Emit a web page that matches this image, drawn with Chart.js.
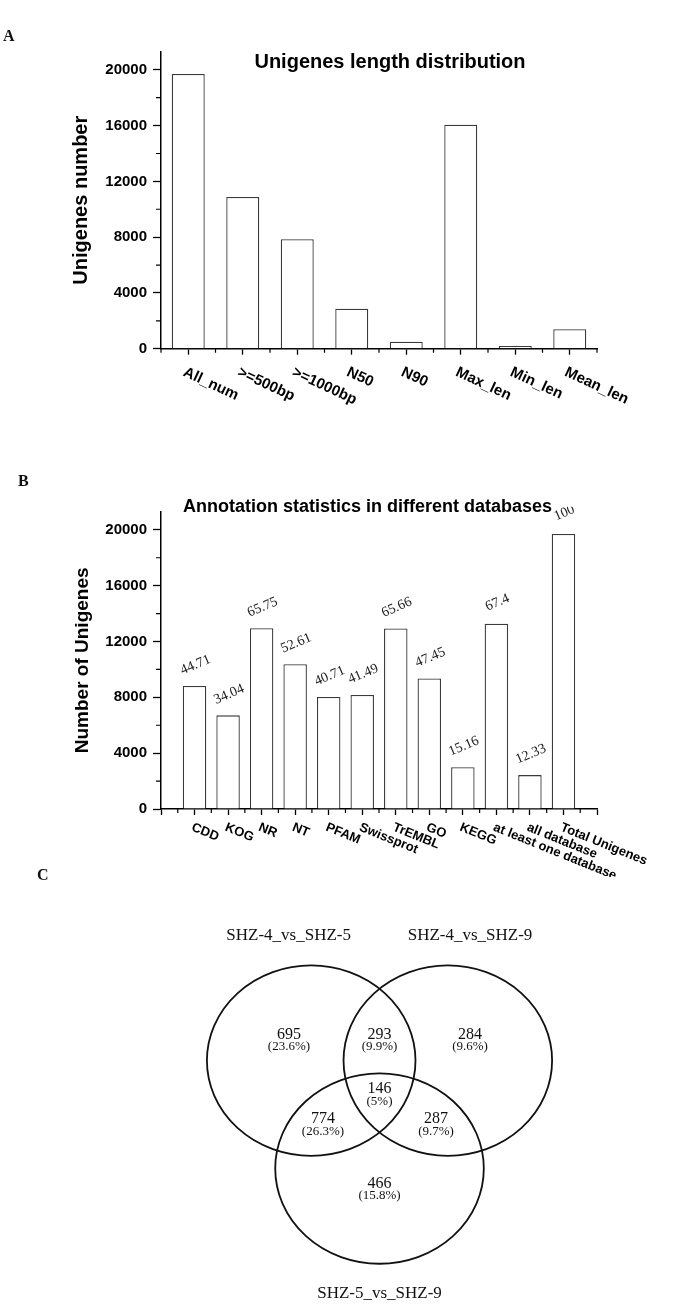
<!DOCTYPE html>
<html><head><meta charset="utf-8">
<script src="https://cdn.jsdelivr.net/npm/chart.js@4.4.1/dist/chart.umd.min.js"></script>
<style>
html,body{margin:0;padding:0;background:#fff;}
body{width:688px;height:1306px;position:relative;overflow:hidden;}
canvas{position:absolute;left:0;}
.plabel{position:absolute;font:bold 16px "Liberation Serif","Times New Roman",serif;line-height:16px;color:#111;z-index:2;}
</style></head><body>
<canvas id="chartA" width="688" height="420" style="top:0;width:688px;height:420px"></canvas>
<canvas id="chartB" width="688" height="437" style="top:440px;width:688px;height:437px"></canvas>
<canvas id="chartC" width="688" height="429" style="top:877px;width:688px;height:429px"></canvas>
<div class="plabel" style="left:3px;top:28px">A</div>
<div class="plabel" style="left:18px;top:473px">B</div>
<div class="plabel" style="left:37px;top:867px">C</div>
<script>
// ---------- data ----------
const lengthCategories = ['All_num', '>=500bp', '>=1000bp', 'N50', 'N90', 'Max_len', 'Min_len', 'Mean_len'];
const lengthValues = [19700, 10880, 7850, 2860, 500, 16060, 200, 1390];
const countAxisTicks = [0, 4000, 8000, 12000, 16000, 20000];

const dbCategories = ['CDD', 'KOG', 'NR', 'NT', 'PFAM', 'Swissprot', 'TrEMBL', 'GO', 'KEGG',
  'at least one database', 'all database', 'Total Unigenes'];
const dbCounts = [8810, 6710, 12950, 10370, 8020, 8170, 12940, 9350, 2990, 13280, 2430, 19700];
const dbPercents = ['44.71', '34.04', '65.75', '52.61', '40.71', '41.49', '65.66', '47.45', '15.16', '67.4', '12.33', '100'];

const vennSetNames = ['SHZ-4_vs_SHZ-5', 'SHZ-4_vs_SHZ-9', 'SHZ-5_vs_SHZ-9'];
const vennRegionCounts = [695, 293, 284, 146, 774, 287, 466];
const vennRegionPercents = ['23.6%', '9.9%', '9.6%', '5%', '26.3%', '9.7%', '15.8%'];

// ---------- layout (venn geometry, in venn units) ----------
const vennRadius = 100;
const vennCircleCenters = [[-65.5, 37.8], [65.5, 37.8], [0, -75.6]];
const vennRegionAnchors = [[-86.8, 64.7], [0, 64.7], [86.8, 64.7], [0, 7.7], [-54.2, -23.8], [54.2, -23.8], [0, -91.1]];
const vennSetLabelAnchors = [[-87.1, 168.7], [86.8, 168.7], [0, -207.4]];

const SANS = '"Liberation Sans", Arial, Helvetica, sans-serif';
const SERIF = '"Liberation Serif", "Times New Roman", serif';

// ---------- plugins ----------
const minorTicksPlugin = {
  id: 'minorTicks',
  afterDraw(chart, args, o) {
    if (!o || !o.enabled) return;
    const ctx = chart.ctx, xs = chart.scales.x, ys = chart.scales.y;
    ctx.save();
    ctx.strokeStyle = '#000';
    ctx.lineWidth = o.width;
    ctx.beginPath();
    const yt = ys.ticks;
    for (let i = 0; i < yt.length - 1; i++) {
      const p = ys.getPixelForValue((yt[i].value + yt[i + 1].value) / 2);
      ctx.moveTo(ys.right - o.yLen, p); ctx.lineTo(ys.right, p);
    }
    const n = xs.ticks.length, px = [];
    for (let i = 0; i < n; i++) px.push(xs.getPixelForTick(i));
    const d = n > 1 ? px[1] - px[0] : 0;
    const mids = [];
    for (let i = 0; i < n - 1; i++) mids.push((px[i] + px[i + 1]) / 2);
    if (xs.options.offset) { mids.unshift(px[0] - d / 2); mids.push(px[n - 1] + d / 2); }
    mids.forEach(p => { ctx.moveTo(p, xs.top); ctx.lineTo(p, xs.top + o.xLen); });
    ctx.stroke();
    ctx.restore();
  }
};

const slantLabelsPlugin = {
  id: 'slantLabels',
  afterDraw(chart, args, o) {
    if (!o || !o.enabled) return;
    const ctx = chart.ctx, xs = chart.scales.x;
    ctx.save();
    ctx.font = o.font; ctx.fillStyle = '#000';
    ctx.textAlign = 'left'; ctx.textBaseline = 'top';
    chart.data.labels.forEach((lab, i) => {
      if (!lab) return;
      ctx.save();
      ctx.translate(xs.getPixelForTick(i) + o.dx, xs.top + o.dy);
      ctx.rotate(o.angle * Math.PI / 180);
      ctx.fillText(lab, 0, 0);
      ctx.restore();
    });
    ctx.restore();
  }
};

const panelTitlePlugin = {
  id: 'panelTitle',
  afterDraw(chart, args, o) {
    if (!o || !o.text) return;
    const ctx = chart.ctx;
    ctx.save();
    ctx.font = o.font; ctx.fillStyle = '#000';
    ctx.textAlign = 'center'; ctx.textBaseline = 'middle';
    ctx.fillText(o.text, o.x, o.y);
    ctx.restore();
  }
};

const barPercentPlugin = {
  id: 'barPercent',
  afterDatasetsDraw(chart, args, o) {
    if (!o || !o.labels) return;
    const ctx = chart.ctx, meta = chart.getDatasetMeta(0);
    ctx.save();
    ctx.beginPath();
    ctx.rect(0, chart.chartArea.top - o.clipAbove, chart.width, chart.height);
    ctx.clip();
    ctx.font = o.font; ctx.fillStyle = '#222';
    ctx.textAlign = 'center'; ctx.textBaseline = 'middle';
    o.labels.forEach((t, k) => {
      const el = meta.data[k + o.indexOffset];
      if (!el) return;
      ctx.save();
      ctx.translate(el.x + o.dx, el.y - o.dy);
      ctx.rotate(o.angle * Math.PI / 180);
      ctx.fillText(t, 0, 0);
      ctx.restore();
    });
    ctx.restore();
  }
};

const vennPlugin = {
  id: 'venn',
  afterDatasetsDraw(chart, args, o) {
    if (!o || !o.enabled) return;
    const ctx = chart.ctx, xs = chart.scales.x, ys = chart.scales.y;
    ctx.save();
    ctx.strokeStyle = '#111'; ctx.lineWidth = o.lineWidth;
    chart.data.datasets[0].data.forEach(pt => {
      const cx = xs.getPixelForValue(pt.x), cy = ys.getPixelForValue(pt.y);
      const rx = Math.abs(xs.getPixelForValue(pt.x + o.radius) - cx);
      const ry = Math.abs(ys.getPixelForValue(pt.y + o.radius) - cy);
      ctx.beginPath(); ctx.ellipse(cx, cy, rx, ry, 0, 0, Math.PI * 2); ctx.stroke();
    });
    ctx.fillStyle = '#111'; ctx.textAlign = 'center'; ctx.textBaseline = 'middle';
    ctx.font = o.setFont;
    o.setNames.forEach((s, i) => {
      ctx.fillText(s, xs.getPixelForValue(o.setAnchors[i][0]), ys.getPixelForValue(o.setAnchors[i][1]));
    });
    o.counts.forEach((c, i) => {
      const x = xs.getPixelForValue(o.regionAnchors[i][0]), y = ys.getPixelForValue(o.regionAnchors[i][1]);
      ctx.font = o.countFont; ctx.fillText(String(c), x, y);
      ctx.font = o.pctFont; ctx.fillText('(' + o.percents[i] + ')', x, y + o.pctGap);
    });
    ctx.restore();
  }
};

function yAxis(titleText, titleSize, titlePad) {
  return {
    min: 0, max: 21300, bounds: 'data',
    afterBuildTicks(s) { s.ticks = countAxisTicks.map(v => ({ value: v })); },
    ticks: { callback: v => String(v), font: { family: SANS, size: 15, weight: 'bold' }, color: '#000', padding: 6 },
    grid: { display: true, drawOnChartArea: false, drawTicks: true, tickLength: 8, color: '#000', tickWidth: 1.3 },
    border: { display: true, color: '#000', width: 1.5 },
    title: { display: true, text: titleText, color: '#000', font: { family: SANS, size: titleSize, weight: 'bold' }, padding: { top: titlePad, bottom: 0 } },
    afterFit(s) { s.width = 161; }
  };
}

function xAxis(offset, height) {
  return {
    type: 'category', offset: offset,
    grid: { display: true, offset: false, drawOnChartArea: false, drawTicks: true, tickLength: 6, color: '#000', tickWidth: 1.3 },
    border: { display: true, color: '#000', width: 1.5 },
    ticks: { display: false, autoSkip: false },
    afterFit(s) { s.height = height; }
  };
}

// ---------- Panel A ----------
new Chart(document.getElementById('chartA'), {
  type: 'bar',
  data: {
    labels: lengthCategories,
    datasets: [{ data: lengthValues, backgroundColor: '#fff', borderColor: '#3a3a3a', borderWidth: 1.3,
      barPercentage: 0.605, categoryPercentage: 1.0 }]
  },
  options: {
    responsive: false, animation: false, devicePixelRatio: 1,
    layout: { padding: { left: 0, top: 51.7, right: 91, bottom: 0 } },
    plugins: {
      legend: { display: false }, tooltip: { enabled: false },
      panelTitle: { text: 'Unigenes length distribution', font: 'bold 20px ' + SANS, x: 390, y: 62 },
      slantLabels: { enabled: true, font: 'bold 15px ' + SANS, angle: 25, dx: -1, dy: 16 },
      minorTicks: { enabled: true, width: 1.2, yLen: 5, xLen: 4 }
    },
    scales: { x: xAxis(true, 71.3), y: yAxis('Unigenes number', 20, 69) }
  },
  plugins: [panelTitlePlugin, slantLabelsPlugin, minorTicksPlugin]
});

// ---------- Panel B ----------
new Chart(document.getElementById('chartB'), {
  type: 'bar',
  data: {
    labels: [''].concat(dbCategories, ['']),
    datasets: [{ data: [null].concat(dbCounts, [null]), backgroundColor: '#fff', borderColor: '#3a3a3a', borderWidth: 1.3,
      barPercentage: 0.70, categoryPercentage: 1.0 }]
  },
  options: {
    responsive: false, animation: false, devicePixelRatio: 1,
    layout: { padding: { left: 0, top: 71.7, right: 91, bottom: 0 } },
    plugins: {
      legend: { display: false }, tooltip: { enabled: false },
      panelTitle: { text: 'Annotation statistics in different databases', font: 'bold 18px ' + SANS, x: 367.5, y: 67 },
      slantLabels: { enabled: true, font: 'bold 13px ' + SANS, angle: 22, dx: 0, dy: 12 },
      minorTicks: { enabled: true, width: 1.2, yLen: 5, xLen: 4 },
      barPercent: { labels: dbPercents, indexOffset: 1, font: '14px ' + SERIF, angle: -23, dx: 1, dy: 21, clipAbove: 5 }
    },
    scales: { x: xAxis(false, 68), y: yAxis('Number of Unigenes', 19, 71) }
  },
  plugins: [panelTitlePlugin, slantLabelsPlugin, minorTicksPlugin, barPercentPlugin]
});

// ---------- Panel C (Venn) ----------
new Chart(document.getElementById('chartC'), {
  type: 'scatter',
  data: { datasets: [{ data: vennCircleCenters.map(c => ({ x: c[0], y: c[1] })), pointRadius: 0, pointHoverRadius: 0 }] },
  options: {
    responsive: false, animation: false, devicePixelRatio: 1,
    layout: { padding: 0 },
    events: [],
    plugins: {
      legend: { display: false }, tooltip: { enabled: false },
      venn: {
        enabled: true, radius: vennRadius, lineWidth: 1.8,
        setNames: vennSetNames, setAnchors: vennSetLabelAnchors,
        counts: vennRegionCounts, percents: vennRegionPercents, regionAnchors: vennRegionAnchors,
        setFont: '17px ' + SERIF, countFont: '16px ' + SERIF, pctFont: '13px ' + SERIF, pctGap: 12
      }
    },
    scales: {
      x: { type: 'linear', display: false, bounds: 'data', min: -363.9, max: 295.8 },
      y: { type: 'linear', display: false, bounds: 'data', min: -220, max: 230.7 }
    }
  },
  plugins: [vennPlugin]
});
</script>
</body></html>
